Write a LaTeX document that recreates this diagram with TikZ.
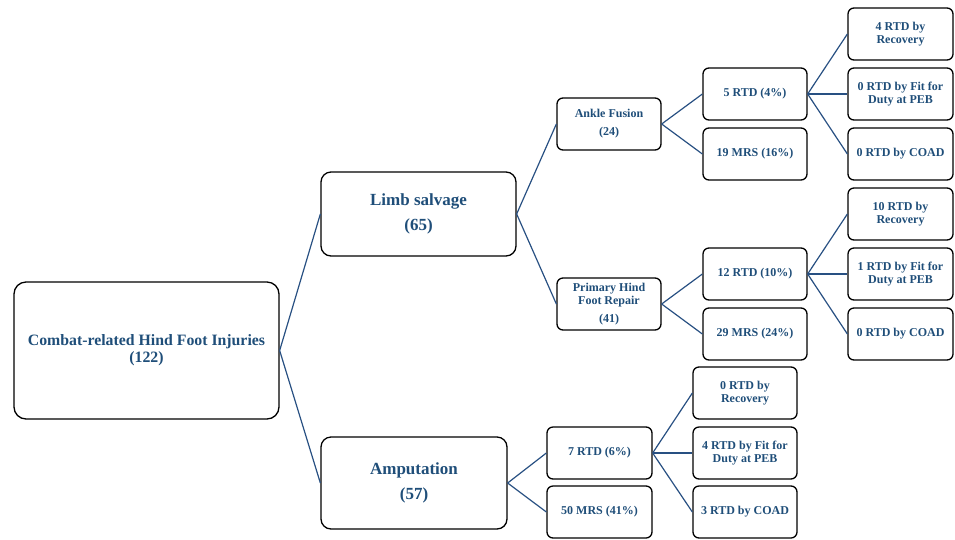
\documentclass[tikz,border=0pt]{standalone}
\usepackage{fontspec}
\setmainfont{Liberation Serif}
\definecolor{navy}{RGB}{31,78,121}
\definecolor{linkc}{RGB}{40,80,130}
\begin{document}
\begin{tikzpicture}[x=1pt,y=-1pt,
  box/.style={draw=black,line width=1.3pt,rounded corners=6pt,inner sep=0pt,align=center,text=navy,font=\bfseries\fontsize{12}{13}\selectfont},
  small/.style={box,minimum width=104pt,minimum height=52pt},
  big/.style={box,rounded corners=10pt,font=\bfseries\fontsize{17}{25}\selectfont},
  link/.style={draw=linkc,line width=1.2pt}]
\useasboundingbox (0,0) rectangle (955,539);
\node[box,rounded corners=12pt,minimum width=265pt,minimum height=137pt,font=\bfseries\fontsize{15.8}{17}\selectfont] (root) at (146.5,350.5) {Combat-related Hind Foot Injuries\\(122)};
\node[big,minimum width=195pt,minimum height=84pt] (limb) at (418.5,214) {Limb salvage\\(65)};
\node[big,minimum width=186pt,minimum height=92pt] (amp) at (414,483) {Amputation\\(57)};
\node[small,font=\bfseries\fontsize{12}{18}\selectfont] (ankle) at (609,124) {Ankle Fusion\\(24)};
\node[small] (prim) at (609,304) {Primary Hind\\Foot Repair\\[5pt](41)};
\node[small] (a1) at (755,94) {5 RTD (4\%)};
\node[small] (a2) at (755,154) {19 MRS (16\%)};
\node[small] (p1) at (755,274) {12 RTD (10\%)};
\node[small] (p2) at (755,334) {29 MRS (24\%)};
\node[small,minimum width=105pt] (a11) at (900.5,34) {4 RTD by\\Recovery};
\node[small,minimum width=105pt] (a12) at (900.5,94) {0 RTD by Fit for\\Duty at PEB};
\node[small,minimum width=105pt] (a13) at (900.5,154) {0 RTD by COAD};
\node[small,minimum width=105pt] (p11) at (900.5,214) {10 RTD by\\Recovery};
\node[small,minimum width=105pt] (p12) at (900.5,274) {1 RTD by Fit for\\Duty at PEB};
\node[small,minimum width=105pt] (p13) at (900.5,334) {0 RTD by COAD};
\node[small,minimum width=105pt] (m1) at (599.5,453) {7 RTD (6\%)};
\node[small,minimum width=105pt] (m2) at (599.5,512) {50 MRS (41\%)};
\node[small] (m11) at (745,393) {0 RTD by\\Recovery};
\node[small] (m12) at (745,453) {4 RTD by Fit for\\Duty at PEB};
\node[small] (m13) at (745,512) {3 RTD by COAD};
\draw[link] (root.east) -- (limb.west);
\draw[link] (root.east) -- (amp.west);
\draw[link] (limb.east) -- (ankle.west);
\draw[link] (limb.east) -- (prim.west);
\draw[link] (ankle.east) -- (a1.west);
\draw[link] (ankle.east) -- (a2.west);
\draw[link] (prim.east) -- (p1.west);
\draw[link] (prim.east) -- (p2.west);
\draw[link] (a1.east) -- (a11.west);
\draw[link] (a1.east) -- (a12.west);
\draw[link] (a1.east) -- (a13.west);
\draw[link] (p1.east) -- (p11.west);
\draw[link] (p1.east) -- (p12.west);
\draw[link] (p1.east) -- (p13.west);
\draw[link] (amp.east) -- (m1.west);
\draw[link] (amp.east) -- (m2.west);
\draw[link] (m1.east) -- (m11.west);
\draw[link] (m1.east) -- (m12.west);
\draw[link] (m1.east) -- (m13.west);
\end{tikzpicture}
\end{document}
